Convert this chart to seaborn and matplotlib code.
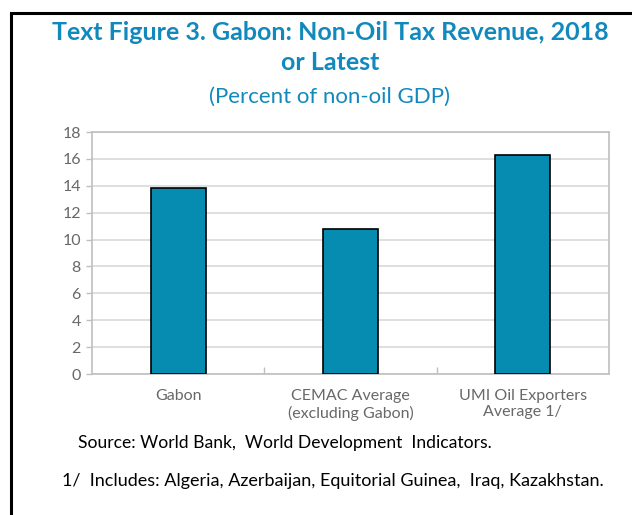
import matplotlib.pyplot as plt
import pandas as pd
import seaborn as sns
from matplotlib.patches import Rectangle

# Data
categories = ['Gabon', 'CEMAC Average\n(excluding Gabon)', 'UMI Oil Exporters\nAverage 1/']
revenue = [13.8, 10.8, 16.3]
y_ticks = list(range(0, 20, 2))

df = pd.DataFrame({'group': categories, 'value': revenue})

sns.set_theme(style='white')
plt.rcParams['font.family'] = ['Lato', 'DejaVu Sans']

title_color = '#1289bd'
bar_color = '#068cb0'
grey = '#686868'

fig = plt.figure(figsize=(6.32, 5.15), dpi=100)
ax = fig.add_axes([92 / 632, 141 / 515, 517 / 632, 242 / 515])

sns.barplot(data=df, x='group', y='value', color=bar_color, width=0.32,
            edgecolor='black', linewidth=1.2, saturation=1, ax=ax, zorder=3)

ax.set_ylim(0, 18)
ax.set_xlim(-0.5, 2.5)
ax.set_yticks(y_ticks)
ax.set_xlabel('')
ax.set_ylabel('')
ax.grid(axis='y', color='#d9d9d9', linewidth=1.2, zorder=0)
for s in ax.spines.values():
    s.set_color('#bfbfbf')
    s.set_linewidth(1.2)

ax.tick_params(axis='y', colors=grey, labelsize=11.5, length=4, width=1.0,
               color='#bfbfbf', left=True, pad=4)
ax.tick_params(axis='x', colors=grey, labelsize=11.5, length=0, pad=11)
# category separators on x axis
ax.set_xticks([0.5, 1.5], minor=True)
ax.tick_params(axis='x', which='minor', direction='in', length=5, color='#bfbfbf', bottom=True)

# titles
fig.text(0.522, 1 - 32 / 515, 'Text Figure 3. Gabon: Non-Oil Tax Revenue, 2018',
         ha='center', va='center', fontsize=18, fontweight='bold', color=title_color)
fig.text(0.522, 1 - 63 / 515, 'or Latest', ha='center', va='center',
         fontsize=18, fontweight='bold', color=title_color)
fig.text(0.522, 1 - 97 / 515, '(Percent of non-oil GDP)', ha='center', va='center',
         fontsize=16, color=title_color)

# notes
fig.text(78 / 632, 1 - 443 / 515, 'Source: World Bank,  World Development  Indicators.',
         ha='left', va='center', fontsize=12.6, color='black')
fig.text(62 / 632, 1 - 481 / 515, '1/  Includes: Algeria, Azerbaijan, Equitorial Guinea,  Iraq, Kazakhstan.',
         ha='left', va='center', fontsize=13, color='black')

# outer frame
fig.patches.append(Rectangle((11 / 632, -0.05), 1.2, 1 - 13 / 515 + 0.05,
                             transform=fig.transFigure, fill=False,
                             edgecolor='black', linewidth=2.2))

fig.savefig('out.png', dpi=100)
